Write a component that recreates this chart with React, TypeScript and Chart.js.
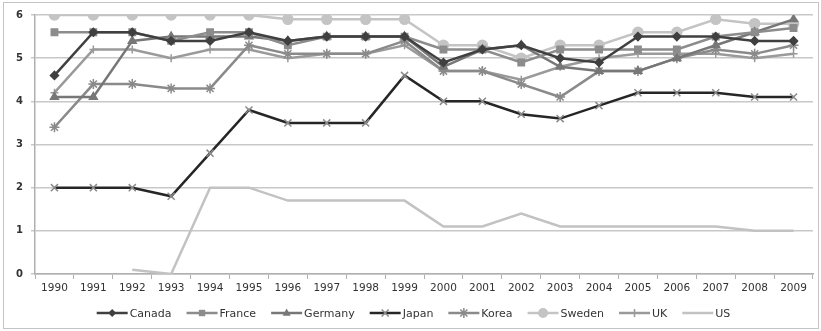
import React, { useEffect, useRef } from "react";
import { Chart, registerables } from "chart.js";

Chart.register(...registerables);

const years = ["1990","1991","1992","1993","1994","1995","1996","1997","1998","1999","2000","2001","2002","2003","2004","2005","2006","2007","2008","2009"];
const yTicks = [0, 1, 2, 3, 4, 5, 6];

const canada = [4.6, 5.6, 5.6, 5.4, 5.4, 5.6, 5.4, 5.5, 5.5, 5.5, 4.9, 5.2, 5.3, 5.0, 4.9, 5.5, 5.5, 5.5, 5.4, 5.4];
const france = [5.6, 5.6, 5.6, 5.4, 5.6, 5.6, 5.3, 5.5, 5.5, 5.5, 5.2, 5.2, 4.9, 5.2, 5.2, 5.2, 5.2, 5.5, 5.6, 5.7];
const germany = [4.1, 4.1, 5.4, 5.5, 5.5, 5.5, 5.4, 5.5, 5.5, 5.5, 4.8, 5.2, 5.3, 4.8, 4.7, 4.7, 5.0, 5.3, 5.6, 5.9];
const japan = [2.0, 2.0, 2.0, 1.8, 2.8, 3.8, 3.5, 3.5, 3.5, 4.6, 4.0, 4.0, 3.7, 3.6, 3.9, 4.2, 4.2, 4.2, 4.1, 4.1];
const korea = [3.4, 4.4, 4.4, 4.3, 4.3, 5.3, 5.1, 5.1, 5.1, 5.4, 4.7, 4.7, 4.4, 4.1, 4.7, 4.7, 5.0, 5.2, 5.1, 5.3];
const sweden = [6.0, 6.0, 6.0, 6.0, 6.0, 6.0, 5.9, 5.9, 5.9, 5.9, 5.3, 5.3, 5.0, 5.3, 5.3, 5.6, 5.6, 5.9, 5.8, 5.8];
const uk = [4.2, 5.2, 5.2, 5.0, 5.2, 5.2, 5.0, 5.1, 5.1, 5.3, 4.7, 4.7, 4.5, 4.8, 5.0, 5.1, 5.1, 5.1, 5.0, 5.1];
const us = [null, null, 0.1, 0, 2.0, 2.0, 1.7, 1.7, 1.7, 1.7, 1.1, 1.1, 1.4, 1.1, 1.1, 1.1, 1.1, 1.1, 1.0, 1.0];

const seriesNames = ["Canada", "France", "Germany", "Japan", "Korea", "Sweden", "UK", "US"];
const seriesData = [canada, france, germany, japan, korea, sweden, uk, us];
const lineColors = ["#404040", "#8c8c8c", "#777777", "#262626", "#8a8a8a", "#c4c4c4", "#9a9a9a", "#c2c2c2"];
const markerColors = ["#404040", "#8c8c8c", "#777777", "#8a8a8a", "#8a8a8a", "#c4c4c4", "#9a9a9a", "#c2c2c2"];
const markerStyles = ["rectRot", "rect", "triangle", "crossRot", "star", "circle", "cross", "circle"];
const markerRadius = [4, 4.5, 4.5, 5, 5, 5, 4, 0];

const FONT = "'DejaVu Sans', Verdana, sans-serif";

function drawMarker(ctx: CanvasRenderingContext2D, style: string, r: number, x: number, y: number) {
  ctx.beginPath();
  switch (style) {
    case "circle":
      ctx.arc(x, y, r, 0, Math.PI * 2);
      ctx.fill();
      break;
    case "rect": {
      const s = r * Math.SQRT1_2;
      ctx.fillRect(x - s, y - s, 2 * s, 2 * s);
      break;
    }
    case "rectRot":
      ctx.moveTo(x, y - r); ctx.lineTo(x + r, y); ctx.lineTo(x, y + r); ctx.lineTo(x - r, y); ctx.closePath();
      ctx.fill();
      break;
    case "triangle":
      ctx.moveTo(x, y - r); ctx.lineTo(x + r * 0.9, y + r * 0.6); ctx.lineTo(x - r * 0.9, y + r * 0.6); ctx.closePath();
      ctx.fill();
      break;
    case "crossRot": {
      const d = r * Math.SQRT1_2;
      ctx.moveTo(x - d, y - d); ctx.lineTo(x + d, y + d); ctx.moveTo(x - d, y + d); ctx.lineTo(x + d, y - d);
      ctx.stroke();
      break;
    }
    case "star": {
      const d = r * Math.SQRT1_2;
      ctx.moveTo(x - d, y - d); ctx.lineTo(x + d, y + d); ctx.moveTo(x - d, y + d); ctx.lineTo(x + d, y - d);
      ctx.moveTo(x, y - r); ctx.lineTo(x, y + r);
      ctx.stroke();
      break;
    }
    case "cross":
      ctx.moveTo(x, y - r); ctx.lineTo(x, y + r); ctx.moveTo(x - r, y); ctx.lineTo(x + r, y);
      ctx.stroke();
      break;
  }
}

const legendPlugin = {
  id: "customLegend",
  afterDraw(chart: any) {
    const ctx = chart.ctx as CanvasRenderingContext2D;
    ctx.save();
    ctx.strokeStyle = "#c4c4c4";
    ctx.lineWidth = 1;
    ctx.strokeRect(3.5, 2.5, 815, 326);
    ctx.font = "11px " + FONT;
    ctx.textBaseline = "middle";
    const lineW = 31;
    const gapText = 2;
    const gapItem = 15;
    const ds = chart.data.datasets;
    const widths = ds.map((d: any) => lineW + gapText + ctx.measureText(d.label).width);
    const total = widths.reduce((a: number, b: number) => a + b, 0) + gapItem * (widths.length - 1);
    let x = (chart.width - total) / 2 + 3;
    const y = 313;
    ds.forEach((d: any, i: number) => {
      ctx.strokeStyle = d.borderColor;
      ctx.lineWidth = 2.5;
      ctx.beginPath();
      ctx.moveTo(x, y);
      ctx.lineTo(x + lineW, y);
      ctx.stroke();
      if (d.pointRadius > 0) {
        ctx.fillStyle = d.pointBackgroundColor;
        ctx.strokeStyle = d.pointBorderColor;
        ctx.lineWidth = 1.5;
        drawMarker(ctx, d.pointStyle, d.pointRadius, x + lineW / 2, y);
      }
      ctx.fillStyle = "#333333";
      ctx.fillText(d.label, x + lineW + gapText, y + 1);
      x += widths[i] + gapItem;
    });
    ctx.restore();
  },
};

export default function App() {
  const ref = useRef<HTMLCanvasElement>(null);
  useEffect(() => {
    if (!ref.current) return;
    const datasets = seriesNames.map((name, i) => ({
      label: name,
      data: seriesData[i],
      borderColor: lineColors[i],
      backgroundColor: markerColors[i],
      pointBackgroundColor: markerColors[i],
      pointBorderColor: markerColors[i],
      pointBorderWidth: 1.5,
      borderWidth: 2.5,
      pointStyle: markerStyles[i],
      pointRadius: markerRadius[i],
      tension: 0,
      spanGaps: false,
    }));
    const chart = new Chart(ref.current, {
      type: "line",
      data: { labels: years, datasets },
      plugins: [legendPlugin],
      options: {
        responsive: false,
        animation: false,
        layout: { padding: { left: 5, right: 8, top: 15, bottom: 35 } },
        plugins: { legend: { display: false }, tooltip: { enabled: false } },
        scales: {
          x: {
            type: "category",
            offset: true,
            grid: { display: true, drawOnChartArea: false, drawTicks: true, tickLength: 5, color: "#b0b0b0", offset: true },
            border: { display: true, color: "#b0b0b0", width: 1.5 },
            ticks: { color: "#333333", font: { family: FONT, size: 10.5 }, padding: 3, maxRotation: 0, autoSkip: false },
            afterFit: (s: any) => { s.height = 22; },
          },
          y: {
            min: 0,
            max: 6,
            afterBuildTicks: (s: any) => { s.ticks = yTicks.map((v) => ({ value: v })); },
            grid: { color: "#c8c8c8", lineWidth: 1.5, drawTicks: true, tickLength: 4 },
            border: { display: true, color: "#b0b0b0", width: 1.5 },
            ticks: { color: "#333333", font: { family: FONT, size: 10, weight: "bold" }, padding: 8 },
            afterFit: (s: any) => { s.width = 30; },
          },
        },
      },
    } as any);
    return () => chart.destroy();
  }, []);
  return (
    <div style={{ position: "absolute", left: 0, top: 0, width: 821, height: 331, background: "#fff" }}>
      <canvas ref={ref} width={821} height={331} style={{ display: "block" }} />
    </div>
  );
}
